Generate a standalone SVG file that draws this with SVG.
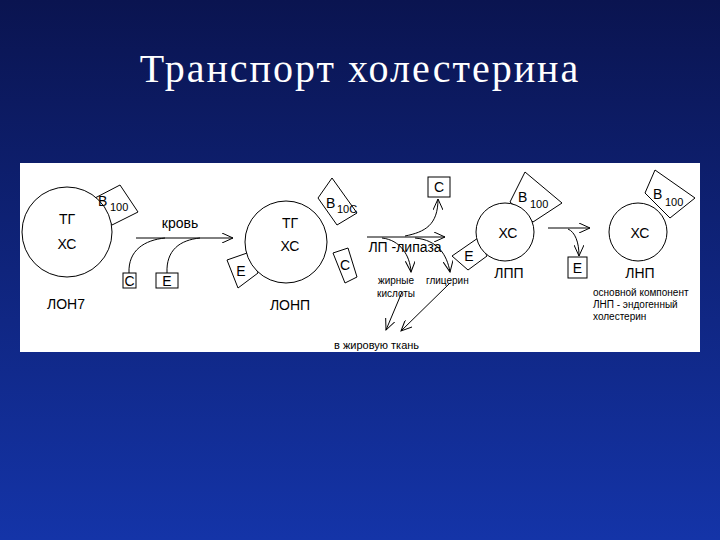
<svg xmlns="http://www.w3.org/2000/svg" width="720" height="540" viewBox="0 0 720 540">
<defs>
<linearGradient id="bg" x1="0" y1="0" x2="0" y2="1"><stop offset="0" stop-color="#0a1450"/><stop offset="1" stop-color="#1434a8"/></linearGradient>
<marker id="ar" markerWidth="12" markerHeight="10" refX="11" refY="5" orient="auto" markerUnits="userSpaceOnUse"><path d="M0,0 L11,5 L0,10" fill="none" stroke="#000" stroke-width="1"/></marker>
</defs>
<style>
.s{fill:none;stroke:#000;stroke-width:1}
.b{fill:#fff;stroke:#000;stroke-width:1}
text{font-family:"Liberation Sans",Arial,sans-serif;fill:#000}
.m{font-size:14px;text-anchor:middle}
.sm{font-size:10px}
</style>
<rect width="720" height="540" fill="url(#bg)"/>
<text x="360" y="82" text-anchor="middle" style="font-family:'Liberation Serif','Times New Roman',serif;font-size:40px;letter-spacing:2px;fill:#fff">Транспорт холестерина</text>
<rect x="20" y="163" width="680" height="189" fill="#fff"/>
<g id="lonp1">
<polygon class="b" points="120,185 138,212 112,225 95,198"/>
<circle class="b" cx="67" cy="232" r="45"/>
<text x="98" y="206" style="font-size:14px">B</text><text x="110" y="211" style="font-size:11px">100</text>
<text class="m" x="67" y="224">ТГ</text><text class="m" x="67" y="249">ХС</text>
<text class="m" x="66" y="309">ЛОН7</text>
</g>
<g id="c1"><rect class="b" x="123" y="273" width="13" height="15"/><text class="m" x="129.5" y="286">C</text></g>
<g id="e1"><rect class="b" x="156" y="273" width="22" height="15"/><text class="m" x="167" y="286">E</text></g>
<g id="lonp2">
<polygon class="b" points="332,178 357,213 337,225 318,198"/>
<polygon class="b" points="227,260 250,252 258,273 238,288"/>
<polygon class="b" points="333,253 348,248 357,277 345,283"/>
<circle class="b" cx="286" cy="242" r="41"/>
<text x="326" y="208" style="font-size:14px">B</text><text x="337" y="213" style="font-size:11px">10C</text>
<text class="m" x="241" y="276">E</text><text class="m" x="345" y="270">C</text>
<text class="m" x="290" y="228">ТГ</text><text class="m" x="290" y="251">ХС</text>
<text class="m" x="290" y="310">ЛОНП</text>
</g>
<g id="c2"><rect class="b" x="428" y="177" width="22" height="20"/><text class="m" x="439" y="192">C</text></g>
<g id="lpp">
<polygon class="b" points="525,172 562,203 533,222 510,202"/>
<polygon class="b" points="452,256 478,238 487,256 468,270"/>
<circle class="b" cx="505" cy="232" r="29"/>
<text x="518" y="202" style="font-size:14px">B</text><text x="530" y="208" style="font-size:11px">100</text>
<text class="m" x="469" y="261">E</text>
<text class="m" x="508" y="238">ХС</text>
<text class="m" x="509" y="278">ЛПП</text>
</g>
<g id="e2"><rect class="b" x="568" y="257" width="19" height="21"/><text class="m" x="577.5" y="273">E</text></g>
<g id="lnp">
<polygon class="b" points="655,170 695,198 670,218 645,193"/>
<circle class="b" cx="638" cy="232" r="29"/>
<text x="653" y="199" style="font-size:14px">B</text><text x="665" y="206" style="font-size:11px">100</text>
<text class="m" x="640" y="238">ХС</text>
<text class="m" x="640" y="278">ЛНП</text>
<text class="sm" x="593" y="296">основной компонент</text>
<text class="sm" x="593" y="308">ЛНП - эндогенный</text>
<text class="sm" x="593" y="320">холестерин</text>
</g>
<g id="labels">
<text class="m" x="180" y="228">кровь</text>
<text class="m" x="405" y="252">ЛП -липаза</text>
<text class="sm" x="378" y="284">жирные</text>
<text class="sm" x="426" y="284">глицерин</text>
<text class="sm" x="377" y="297">кислоты</text>
<text style="font-size:11px" x="334" y="349">в жировую ткань</text>
</g>
<g id="connectors">
<line class="s" x1="136" y1="238" x2="233" y2="238" marker-end="url(#ar)"/>
<path class="s" d="M129,273 C128,250 145,240 165,238"/>
<path class="s" d="M167,273 C166,250 180,240 200,238"/>
<line class="s" x1="367" y1="237" x2="445" y2="237" marker-end="url(#ar)"/>
<path class="s" d="M405,236 C425,232 438,225 438,199" marker-end="url(#ar)"/>
<path class="s" d="M382,238 C400,240 410,255 411,272" marker-end="url(#ar)"/>
<path class="s" d="M415,238 C438,240 447,255 450,272" marker-end="url(#ar)"/>
<line class="s" x1="402" y1="292" x2="386" y2="330" marker-end="url(#ar)"/>
<line class="s" x1="450" y1="283" x2="401" y2="331" marker-end="url(#ar)"/>
<line class="s" x1="548" y1="228" x2="590" y2="228" marker-end="url(#ar)"/>
<path class="s" d="M568,229 C575,232 579,242 579,256" marker-end="url(#ar)"/>
</g>
</svg>
